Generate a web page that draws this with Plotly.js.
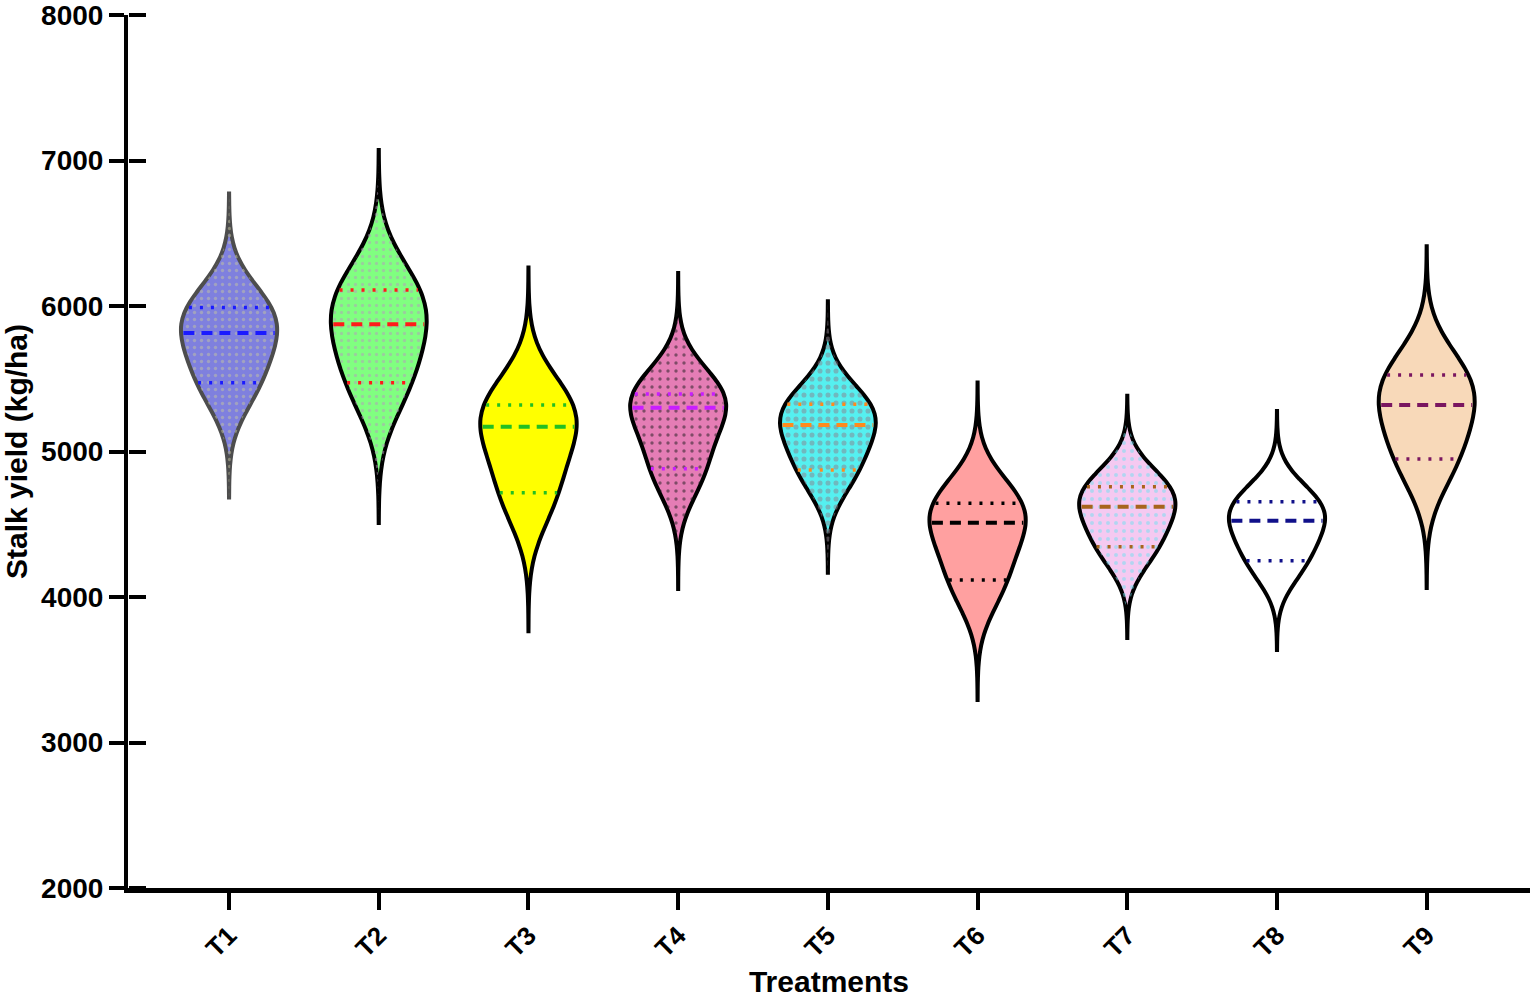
<!DOCTYPE html>
<html>
<head>
<meta charset="utf-8">
<script src="https://cdn.plot.ly/plotly-3.0.1.min.js"></script>
<style>
  html, body { margin: 0; padding: 0; background: #fff; }
  #chart { width: 1539px; height: 1005px; }
</style>
</head>
<body>
<div id="chart"></div>
<script>
// values (kg/ha)
const treatments = ['T1', 'T2', 'T3', 'T4', 'T5', 'T6', 'T7', 'T8', 'T9'];
const lowerQuartile = [5473, 5473, 4717, 4882, 4873, 4117, 4346, 4249, 4948];
const medianYield   = [5814, 5874, 5170, 5300, 5182, 4511, 4621, 4524, 5320];
const upperQuartile = [5990, 6110, 5320, 5395, 5324, 4645, 4758, 4655, 5526];
const tailLow       = [4683, 4509, 3764, 4055, 4166, 3292, 3718, 3636, 4062];
const tailHigh      = [6773, 7072, 6264, 6227, 6032, 5474, 5384, 5279, 6410];

// styles
const fills   = ['#7f80de', '#80ff80', '#ffff00', '#e57db5', '#55f0f0', '#ffa0a0', '#f5c9f1', '#ffffff', '#f8d9b9'];
const borders = ['#4d4d4d', '#000', '#000', '#000', '#000', '#000', '#000', '#000', '#000'];
const lineCol = ['#1a1aff', '#ff1a1a', '#22c022', '#c81eff', '#ff8a1e', '#000000', '#a8641c', '#10108a', '#7a1660'];
const patterns = [
  {shape: '.', fg: '#c4c4a0', size: 7, solidity: 0.18},
  {shape: '.', fg: '#b49cbc', size: 7, solidity: 0.18},
  null,
  {shape: '.', fg: '#1a1a1a', size: 8, solidity: 0.14},
  {shape: '.', fg: '#8c7f8c', size: 8, solidity: 0.32},
  null,
  {shape: '.', fg: '#70e0f0', size: 8, solidity: 0.2},
  null,
  null
];

const violinWidth = 0.64;
const bwFactor = 0.44;
const fontFamily = 'Liberation Sans, Arial, sans-serif';

// same gaussian KDE as plotly's violin, used to size the inner lines / pattern
function makeKde(samples, bw) {
  return function(t) {
    let s = 0;
    samples.forEach(v => {
      const u = (t - v) / bw;
      s += Math.exp(-0.5 * u * u);
    });
    return s / (samples.length * bw * Math.sqrt(2 * Math.PI));
  };
}

const traces = [];
const overlays = [];

treatments.forEach((name, i) => {
  const samples = [lowerQuartile[i], medianYield[i], upperQuartile[i]];
  const bw = bwFactor * (upperQuartile[i] - lowerQuartile[i]);
  const span = [tailLow[i], tailHigh[i]];

  traces.push({
    type: 'violin',
    x0: i,
    y: samples,
    name: name,
    bandwidth: bw,
    spanmode: 'manual',
    span: span,
    width: violinWidth,
    scalemode: 'width',
    fillcolor: fills[i],
    line: {color: borders[i], width: 4},
    points: false,
    box: {visible: false},
    meanline: {visible: false},
    hoverinfo: 'skip',
    showlegend: false
  });

  // density profile, sampled like plotly does
  const kde = makeKde(samples, bw);
  const dist = span[1] - span[0];
  const n = Math.ceil(dist / (bw / 3));
  const step = dist / n;
  const ts = [], ds = [];
  for (let t = span[0]; t < span[1] + step / 2; t += step) {
    ts.push(t);
    ds.push(kde(t));
  }
  const maxKde = Math.max(...ds);
  const half = t => kde(t) / maxKde * violinWidth / 2;

  const p = patterns[i];
  if (p) {
    const xs = [], ys = [];
    ts.forEach((t, k) => { xs.push(i - ds[k] / maxKde * violinWidth / 2 * 0.95); ys.push(t); });
    for (let k = ts.length - 1; k >= 0; k--) { xs.push(i + ds[k] / maxKde * violinWidth / 2 * 0.95); ys.push(ts[k]); }
    overlays.push({
      type: 'scatter',
      mode: 'lines',
      x: xs,
      y: ys,
      fill: 'toself',
      fillcolor: 'rgba(0,0,0,0)',
      fillpattern: {shape: p.shape, fgcolor: p.fg, bgcolor: 'rgba(0,0,0,0)', size: p.size, solidity: p.solidity, fillmode: 'overlay'},
      line: {width: 0, color: 'rgba(0,0,0,0)'},
      hoverinfo: 'skip',
      showlegend: false
    });
  }

  // quartiles dotted, median dashed
  [lowerQuartile[i], upperQuartile[i]].forEach(q => {
    const h = half(q) * 0.95;
    overlays.push({
      type: 'scatter', mode: 'lines',
      x: [i - h, i + h], y: [q, q],
      line: {color: lineCol[i], width: 3.5, dash: '3px,8px'},
      hoverinfo: 'skip', showlegend: false
    });
  });
  const hm = half(medianYield[i]) * 0.95;
  overlays.push({
    type: 'scatter', mode: 'lines',
    x: [i - hm, i + hm], y: [medianYield[i], medianYield[i]],
    line: {color: lineCol[i], width: 4, dash: '11px,7px'},
    hoverinfo: 'skip', showlegend: false
  });
});

// invisible point so the second (cross-tick) axis gets drawn
overlays.push({type: 'scatter', mode: 'markers', x: [0], y: [3000], yaxis: 'y2',
  marker: {opacity: 0, size: 1}, showlegend: false, hoverinfo: 'skip'});

const layout = {
  width: 1539,
  height: 1005,
  margin: {l: 128, r: 9, t: 15, b: 117},
  paper_bgcolor: '#fff',
  plot_bgcolor: '#fff',
  showlegend: false,
  violinmode: 'overlay',
  xaxis: {
    range: [-0.675, 8.69],
    tickvals: treatments.map((_, i) => i),
    ticktext: treatments,
    tickangle: -45,
    ticks: 'outside',
    ticklen: 17,
    tickwidth: 4,
    tickcolor: '#000',
    showline: true,
    linewidth: 5,
    linecolor: '#000',
    showgrid: false,
    zeroline: false,
    tickfont: {family: fontFamily, size: 26, color: '#000', weight: 'bold'},
    title: {text: 'Treatments', font: {family: fontFamily, size: 30, color: '#000', weight: 'bold'}, standoff: 10}
  },
  yaxis: {
    range: [2000, 8000],
    dtick: 1000,
    ticks: 'outside',
    ticklen: 15,
    tickwidth: 4,
    tickcolor: '#000',
    showline: true,
    linewidth: 4,
    linecolor: '#000',
    showgrid: false,
    zeroline: false,
    ticklabeloverflow: 'allow',
    tickfont: {family: fontFamily, size: 28, color: '#000', weight: 'bold'},
    title: {text: 'Stalk yield (kg/ha)', font: {family: fontFamily, size: 30, color: '#000', weight: 'bold'}, standoff: 6}
  },
  yaxis2: {
    overlaying: 'y',
    anchor: 'free',
    position: 0,
    side: 'right',
    range: [2000, 8000],
    dtick: 1000,
    ticks: 'outside',
    ticklen: 17,
    tickwidth: 4,
    tickcolor: '#000',
    showticklabels: false,
    showline: false,
    showgrid: false,
    zeroline: false
  }
};

Plotly.newPlot('chart', traces.concat(overlays), layout, {staticPlot: true});
</script>
</body>
</html>
